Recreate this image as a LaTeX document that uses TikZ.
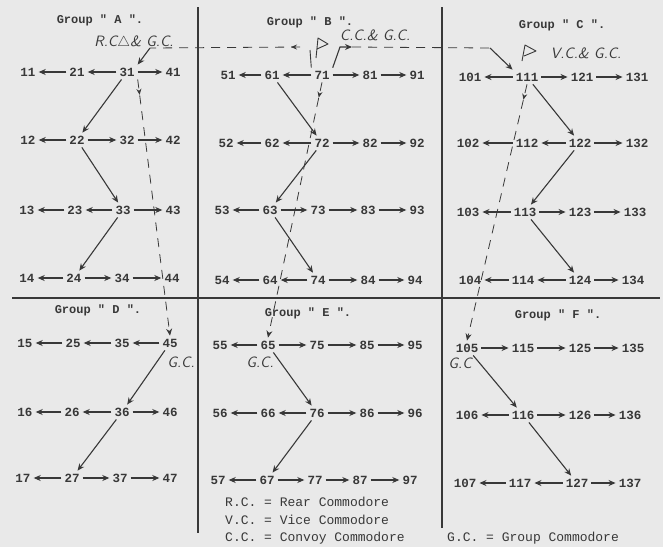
\documentclass[tikz,border=0pt]{standalone}
\usepackage{fontspec}
\setmonofont{Liberation Mono}
\usetikzlibrary{arrows.meta, decorations.markings}
\definecolor{paper}{HTML}{E9E9E9}
\definecolor{ink}{HTML}{383838}

\begin{document}
\begin{tikzpicture}[x=1pt, y=-1pt,
    num/.style={font=\fontsize{12.5}{13}\ttfamily\bfseries, text=ink, inner sep=3pt},
    grp/.style={font=\fontsize{12}{13}\ttfamily\bfseries, text=ink},
    hand/.style={font=\fontsize{15}{16}\sffamily\itshape, text=ink, inner sep=1pt},
    key/.style={font=\fontsize{13}{14}\ttfamily, text=ink, anchor=west, inner sep=0pt},
    arr/.style={ink, line width=1.1pt, -{Stealth[length=7pt, width=6pt]}},
    sig/.style={ink, line width=0.8pt, dash pattern=on 9pt off 7pt, -{Stealth[length=7pt, width=6pt]}},
    firsttip/.style={postaction={decorate}, decoration={markings,
        mark=at position 0.06 with {\arrow{Stealth[length=6pt, width=5pt]}}}},
    flag/.style={ink, line width=0.9pt, line join=round},
    rule/.style={ink, line width=2.4pt}
  ]
  \useasboundingbox (0,0) rectangle (663,547);
  \fill[paper] (0,0) rectangle (663,547);

  % dividing rules
  \draw[rule] (198,7) -- (198,533);
  \draw[rule] (442,7) -- (442,528);
  \draw[ink, line width=1.8pt] (12,298) -- (660,298);

  % group titles
  \node[grp] (tA) at (100,20) {Group " A ".};
  \node[grp] (tB) at (310,22) {Group " B ".};
  \node[grp] (tC) at (562,25) {Group " C ".};
  \node[grp] (tD) at (98,310) {Group " D ".};
  \node[grp] (tE) at (308,313) {Group " E ".};
  \node[grp] (tF) at (558,315) {Group " F ".};

  % ships
  \foreach \n/\x/\y in {11/28/72, 21/77/72, 31/127/72, 41/173/72,
      12/28/140, 22/77/140, 32/127/140, 42/173/140,
      13/27/210, 23/75/210, 33/123/210, 43/173/210,
      14/27/278, 24/74/278, 34/122/278, 44/172/278,
      15/25/343, 25/73/343, 35/122/343, 45/170/343,
      16/25/412, 26/72/412, 36/122/412, 46/170/412,
      17/23/478, 27/72/478, 37/120/478, 47/170/478}
    \node[num] (n\n) at (\x,\y) {\n};
  \foreach \n/\x/\y in {51/228/75, 61/272/75, 71/322/75, 81/370/75, 91/417/75,
      52/226/143, 62/272/143, 72/322/143, 82/370/143, 92/417/143,
      53/222/210, 63/270/210, 73/318/210, 83/368/210, 93/417/210,
      54/222/280, 64/270/280, 74/318/280, 84/368/280, 94/415/280,
      55/220/345, 65/268/345, 75/317/345, 85/367/345, 95/415/345,
      56/220/413, 66/268/413, 76/317/413, 86/367/413, 96/415/413,
      57/218/480, 67/267/480, 77/315/480, 87/360/480, 97/410/480}
    \node[num] (n\n) at (\x,\y) {\n};
  \foreach \n/\x/\y in {101/470/77, 111/527/77, 121/582/77, 131/637/77,
      102/468/143, 112/527/143, 122/580/143, 132/637/143,
      103/468/212, 113/525/212, 123/580/212, 133/635/212,
      104/470/280, 114/523/280, 124/580/280, 134/633/280,
      105/467/348, 115/523/348, 125/580/348, 135/633/348,
      106/467/415, 116/523/415, 126/580/415, 136/630/415,
      107/465/483, 117/520/483, 127/577/483, 137/630/483}
    \node[num] (n\n) at (\x,\y) {\n};

  % orders along the rows
  \foreach \a/\b in {21/11, 31/21, 31/41, 22/12, 22/32, 32/42,
      23/13, 33/23, 33/43, 24/14, 24/34, 34/44,
      25/15, 35/25, 45/35, 26/16, 36/26, 36/46, 27/17, 27/37, 37/47,
      61/51, 71/61, 71/81, 81/91, 62/52, 72/62, 72/82, 82/92,
      63/53, 63/73, 73/83, 83/93, 64/54, 74/64, 74/84, 84/94,
      65/55, 65/75, 75/85, 85/95, 66/56, 76/66, 76/86, 86/96,
      67/57, 67/77, 77/87, 87/97,
      111/101, 111/121, 121/131, 112/102, 122/112, 122/132,
      113/103, 113/123, 123/133, 114/104, 124/114, 124/134,
      105/115, 115/125, 125/135, 116/106, 116/126, 126/136,
      117/107, 127/117, 127/137}
    \draw[arr] (n\a) -- (n\b);

  % orders down the columns
  \foreach \a/\b in {31/22, 22/33, 33/24, 45/36, 36/27,
      61/72, 72/63, 63/74, 65/76, 76/67,
      111/122, 122/113, 113/124, 105/116, 116/127}
    \draw[arr] (n\a) -- (n\b);

  % commodores
  \node[hand] (lblA) at (134,43) {R.C$\triangle$\& G.C.};
  \node[hand] (lblB) at (375,35) {C.C.\& G.C.};
  \node[hand] (lblC) at (586,53) {V.C.\& G.C.};
  \node[hand] (lblD) at (181,362) {G.C.};
  \node[hand] (lblE) at (260,362) {G.C.};
  \node[hand] (lblF) at (460,363) {G.C};
  \draw[flag] (316,58) -- (318,38) -- (328,44) -- (317,49);
  \draw[flag] (522,61) -- (525,45) -- (536,51) -- (524,56);

  % signals from the convoy commodore
  \coordinate (ccL) at (300,47);
  \coordinate (rcE) at (150,48);
  \coordinate (ccR) at (352,47);
  \coordinate (vcW) at (490,48);
  \draw[ink, line width=0.9pt] (n71.north west) -- (310,50);
  \draw[sig, -, firsttip] (ccL) -- (rcE);
  \draw[arr] (rcE) -- (n31.north east);
  \draw[arr] (n71.north east) -- (340,47) -- (ccR);
  \draw[sig, -] (ccR) -- (vcW);
  \draw[arr] (vcW) -- (n111.north west);

  % signals to the group commodores
  \draw[sig, firsttip] (n31.south east) -- (n45.north);
  \draw[sig, firsttip] (n71.south) -- (n65.north);
  \draw[sig, firsttip] (n111.south) -- (n105.north);

  % key
  \node[key] (kRC) at (225,502) {R.C. = Rear Commodore};
  \node[key] (kVC) at (225,520) {V.C. = Vice Commodore};
  \node[key] (kCC) at (225,538) {C.C. = Convoy Commodore};
  \node[key] (kGC) at (447,538) {G.C. = Group Commodore};
\end{tikzpicture}
\end{document}
